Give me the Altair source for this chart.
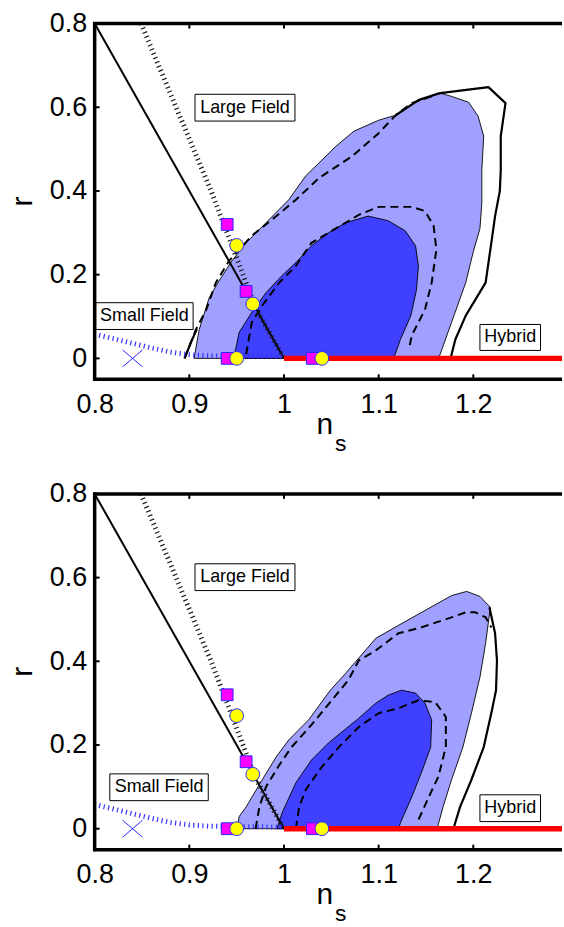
import altair as alt
import pandas as pd

FONT = "Liberation Sans"
LIGHT = "#a0a0ff"
DARK = "#4040ff"

# plot-area size of each panel (pixels)
W, H = 469, 357
NS_DOMAIN = [0.8, 1.2937]
R_DOMAIN = [-0.05, 0.8]
NS_TICKS = [0.8, 0.9, 1.0, 1.1, 1.2]
R_TICKS = [0.0, 0.2, 0.4, 0.6, 0.8]

# ---- model predictions (shared by both panels) ----
BOUND_NS = [0.8, 1.0]
BOUND_R = [0.8, 0.0]
LARGE_NS = [0.849, 0.923, 0.945, 0.970, 0.985, 1.0]
LARGE_R = [0.80, 0.40, 0.27, 0.12, 0.06, 0.0]
SMALL_NS = [0.80, 0.82, 0.84, 0.86, 0.88, 0.90, 0.92, 0.95, 1.00]
SMALL_R = [0.058, 0.047, 0.036, 0.025, 0.015, 0.009, 0.006, 0.005, 0.004]
HYBRID_NS = [1.0, 1.3]
HYBRID_R = [0.0, 0.0]
SQ_NS = [0.94, 0.96, 0.94, 1.03]
SQ_R = [0.32, 0.16, 0.0, 0.0]
CIRC_NS = [0.95, 0.967, 0.95, 1.04]
CIRC_R = [0.27, 0.13, 0.0, 0.0]
CROSS_NS = [0.84]
CROSS_R = [0.0]

# ---- upper panel contours ----
TOP_2S_NS = [0.905, 0.9105, 0.921, 0.9316, 0.945, 0.96, 0.981, 1.005, 1.023, 1.055, 1.074, 1.1,
             1.118, 1.142, 1.166, 1.177, 1.195, 1.205, 1.211, 1.209, 1.209, 1.207, 1.2, 1.192,
             1.177, 1.165, 1.163]
TOP_2S_R = [0.0, 0.069, 0.145, 0.186, 0.233, 0.276, 0.324, 0.379, 0.436, 0.507, 0.543, 0.569,
            0.581, 0.617, 0.633, 0.626, 0.612, 0.579, 0.531, 0.45, 0.371, 0.31, 0.255, 0.181,
            0.086, 0.01, 0.0]
TOP_1S_NS = [0.947, 0.9526, 0.966, 0.981, 0.998, 1.0126, 1.029, 1.047, 1.065, 1.089, 1.11, 1.128,
             1.139, 1.142, 1.14, 1.134, 1.123, 1.117, 1.116]
TOP_1S_R = [0.0, 0.062, 0.11, 0.157, 0.198, 0.229, 0.269, 0.3, 0.324, 0.34, 0.329, 0.305,
            0.269, 0.221, 0.164, 0.102, 0.045, 0.007, 0.0]
TOP_D1_NS = [0.96, 0.966, 0.977, 0.995, 1.0126, 1.029, 1.065, 1.079, 1.1, 1.135, 1.149, 1.158,
             1.161, 1.156, 1.149, 1.135, 1.132]
TOP_D1_R = [0.01, 0.086, 0.126, 0.181, 0.221, 0.276, 0.324, 0.343, 0.362, 0.362, 0.352, 0.317,
            0.26, 0.181, 0.117, 0.055, 0.021]
TOP_D2_NS = [0.895, 0.907, 0.918, 0.928, 0.942, 0.966, 0.992, 1.0126, 1.037, 1.072, 1.1, 1.118,
             1.135, 1.16]
TOP_D2_R = [0.0, 0.069, 0.117, 0.181, 0.233, 0.293, 0.34, 0.379, 0.431, 0.483, 0.538, 0.581,
            0.61, 0.629]
TOP_S_NS = [1.118, 1.142, 1.163, 1.216, 1.234, 1.229, 1.229, 1.228, 1.223, 1.218, 1.213, 1.192,
            1.181, 1.176]
TOP_S_R = [0.581, 0.617, 0.633, 0.648, 0.61, 0.531, 0.45, 0.40, 0.34, 0.26, 0.181, 0.102,
           0.045, 0.0]
TOP_S2_NS = [0.895, 0.902, 0.908]
TOP_S2_R = [0.0, 0.04, 0.07]

# ---- lower panel contours ----
BOT_2S_NS = [0.9505, 0.9526, 0.96, 0.977, 0.9916, 1.005, 1.026, 1.049, 1.065, 1.097, 1.121, 1.177,
             1.193, 1.207, 1.218, 1.213, 1.207, 1.198, 1.189, 1.177, 1.168, 1.163, 1.162]
BOT_2S_R = [0.0, 0.029, 0.052, 0.117, 0.171, 0.212, 0.26, 0.331, 0.371, 0.455, 0.486, 0.557,
            0.567, 0.555, 0.529, 0.443, 0.362, 0.276, 0.195, 0.117, 0.052, 0.01, 0.0]
BOT_1S_NS = [0.9926, 0.998, 1.0126, 1.029, 1.047, 1.079, 1.097, 1.11, 1.124, 1.139, 1.149, 1.156,
             1.155, 1.145, 1.135, 1.123, 1.121]
BOT_1S_R = [0.0, 0.038, 0.11, 0.164, 0.205, 0.264, 0.3, 0.319, 0.331, 0.324, 0.3, 0.26,
            0.195, 0.133, 0.076, 0.014, 0.0]
BOT_D1_NS = [1.0126, 1.016, 1.023, 1.04, 1.058, 1.079, 1.1, 1.121, 1.142, 1.16, 1.166, 1.171,
             1.171, 1.163, 1.153, 1.142]
BOT_D1_R = [0.0, 0.052, 0.093, 0.148, 0.195, 0.243, 0.276, 0.288, 0.307, 0.302, 0.283, 0.267,
            0.195, 0.124, 0.076, 0.021]
BOT_D2_NS = [0.97, 0.974, 0.981, 0.995, 1.008, 1.029, 1.068, 1.079, 1.097, 1.121, 1.145, 1.177,
             1.192, 1.202, 1.213, 1.219]
BOT_D2_R = [0.0, 0.052, 0.1, 0.152, 0.195, 0.248, 0.355, 0.402, 0.426, 0.467, 0.481, 0.505,
            0.517, 0.517, 0.505, 0.481]
BOT_S_NS = [1.217, 1.223, 1.225, 1.224, 1.219, 1.211, 1.198, 1.186, 1.179]
BOT_S_R = [0.529, 0.467, 0.402, 0.331, 0.276, 0.195, 0.117, 0.052, 0.0]

# ---- region labels: text, ns range, r range of the boxed label ----
LABEL_TEXT = ["Large Field", "Small Field", "Hybrid"]
TOP_LABEL_NS = [(0.906, 1.0116), (0.801, 0.904), (1.207, 1.271)]
TOP_LABEL_R = [(0.567, 0.631), (0.069, 0.133), (0.019, 0.081)]
BOT_LABEL_NS = [(0.906, 1.0116), (0.816, 0.920), (1.207, 1.271)]
BOT_LABEL_R = [(0.569, 0.633), (0.067, 0.131), (0.017, 0.081)]

XSCALE = alt.Scale(domain=NS_DOMAIN, nice=False, zero=False)
YSCALE = alt.Scale(domain=R_DOMAIN, nice=False, zero=False)
XAXIS = alt.Axis(values=NS_TICKS, format="~g", ticks=False, tickSize=0, grid=False,
                 domain=False, labelFont=FONT, labelFontSize=27,
                 labelColor="black", labelPadding=12, labelFlush=False, labelOverlap=False,
                 title=None)
YAXIS = alt.Axis(values=R_TICKS, format="~g", ticks=False, tickSize=0, grid=False,
                 domain=False, labelFont=FONT, labelFontSize=27,
                 labelColor="black", labelPadding=8, labelOverlap=False,
                 title="r", titleFont=FONT, titleFontSize=30, titleFontWeight="normal",
                 titleColor="black", titleX=-63, titleY=178, titleAngle=270,
                 titleBaseline="alphabetic", titleAlign="center")


def X(field="ns"):
    return alt.X(f"{field}:Q", scale=XSCALE, axis=XAXIS)


def Y(field="r"):
    return alt.Y(f"{field}:Q", scale=YSCALE, axis=YAXIS)


def path_df(ns, r, close=False):
    ns, r = list(ns), list(r)
    if close:
        ns, r = ns + ns[:1], r + r[:1]
    return pd.DataFrame({"ns": ns, "r": r, "i": range(len(ns))})


def region(ns, r, color):
    return alt.Chart(path_df(ns, r, close=True)).mark_line(
        fill=color, stroke="black", strokeWidth=0.9, strokeJoin="round"
    ).encode(x=X(), y=Y(), order="i:Q")


def curve(ns, r, **style):
    return alt.Chart(path_df(ns, r)).mark_line(**style).encode(x=X(), y=Y(), order="i:Q")


def panel(c2_ns, c2_r, c1_ns, c1_r, d1, d2, solids, lab_ns, lab_r):
    layers = [
        region(c2_ns, c2_r, LIGHT),
        region(c1_ns, c1_r, DARK),
    ]
    for s_ns, s_r in solids:
        layers.append(curve(s_ns, s_r, color="black", strokeWidth=2.2, strokeJoin="round"))
    for d_ns, d_r in (d1, d2):
        layers.append(curve(d_ns, d_r, color="black", strokeWidth=2, strokeDash=[8, 5]))

    # boundary between large- and small-field models
    layers.append(curve(BOUND_NS, BOUND_R, color="black", strokeWidth=2))
    # large-field and small-field model tracks (dotted)
    layers.append(curve(LARGE_NS, LARGE_R, color="#1a1a1a", strokeWidth=5,
                        strokeDash=[1.2, 3.4]))
    layers.append(curve(SMALL_NS, SMALL_R, color="#3434ff", strokeWidth=5,
                        strokeDash=[1.2, 3.4]))
    # hybrid models along r = 0
    layers.append(curve(HYBRID_NS, HYBRID_R, color="#ff0000", strokeWidth=5.5, clip=True))

    sq = pd.DataFrame({"ns": SQ_NS, "r": SQ_R})
    layers.append(alt.Chart(sq).mark_point(
        shape="square", filled=True, fill="#ff00ff", stroke="#2a2aff", strokeWidth=1,
        size=140, opacity=1).encode(x=X(), y=Y()))
    ci = pd.DataFrame({"ns": CIRC_NS, "r": CIRC_R})
    layers.append(alt.Chart(ci).mark_point(
        shape="circle", filled=True, fill="#ffff00", stroke="#2a2aff", strokeWidth=1,
        size=190, opacity=1).encode(x=X(), y=Y()))
    cr = pd.DataFrame({"ns": CROSS_NS, "r": CROSS_R})
    layers.append(alt.Chart(cr).mark_point(
        shape="M-1,-0.85L1,0.85M-1,0.85L1,-0.85", filled=False, stroke="#2a2aff",
        strokeWidth=1, size=400, opacity=1).encode(x=X(), y=Y()))

    lab = pd.DataFrame({
        "t": LABEL_TEXT,
        "ns": [a for a, _ in lab_ns], "ns2": [b for _, b in lab_ns],
        "r": [a for a, _ in lab_r], "r2": [b for _, b in lab_r],
    })
    lab["nsc"] = (lab["ns"] + lab["ns2"]) / 2
    lab["rc"] = (lab["r"] + lab["r2"]) / 2
    layers.append(alt.Chart(lab).mark_rect(fill="white", stroke="black", strokeWidth=1).encode(
        x=X("ns"), x2="ns2:Q", y=Y("r"), y2="r2:Q"))
    layers.append(alt.Chart(lab).mark_text(font=FONT, fontSize=18, color="black",
                                           align="center", baseline="middle").encode(
        x=X("nsc"), y=Y("rc"), text="t:N"))

    # frame: top, left and bottom edges with inward ticks
    one = pd.DataFrame({"a": [0]})
    layers.append(alt.Chart(one).mark_rule(color="black", strokeWidth=3.5).encode(
        x=alt.value(-1.5), x2=alt.value(W), y=alt.value(0)))
    layers.append(alt.Chart(one).mark_rule(color="black", strokeWidth=3.5).encode(
        x=alt.value(-1.5), x2=alt.value(W), y=alt.value(H)))
    layers.append(alt.Chart(one).mark_rule(color="black", strokeWidth=3.5).encode(
        x=alt.value(0), y=alt.value(-1.5), y2=alt.value(H + 1.5)))
    xt = pd.DataFrame({"ns": NS_TICKS})
    layers.append(alt.Chart(xt).mark_rule(color="black", strokeWidth=2).encode(
        x=X(), y=alt.value(H), y2=alt.value(H - 5)))
    layers.append(alt.Chart(xt).mark_rule(color="black", strokeWidth=2).encode(
        x=X(), y=alt.value(0), y2=alt.value(5)))
    yt = pd.DataFrame({"r": R_TICKS})
    layers.append(alt.Chart(yt).mark_rule(color="black", strokeWidth=2).encode(
        y=Y(), x=alt.value(0), x2=alt.value(5)))

    # x-axis title n with subscript s
    layers.append(alt.Chart(pd.DataFrame({"t": ["n"]})).mark_text(
        font=FONT, fontSize=30, color="black", align="center", baseline="alphabetic").encode(
        text="t:N", x=alt.value(231), y=alt.value(412)))
    layers.append(alt.Chart(pd.DataFrame({"t": ["s"]})).mark_text(
        font=FONT, fontSize=23, color="black", align="center", baseline="alphabetic").encode(
        text="t:N", x=alt.value(247), y=alt.value(429)))

    return alt.layer(*layers).properties(width=W, height=H)


top = panel(TOP_2S_NS, TOP_2S_R, TOP_1S_NS, TOP_1S_R,
            (TOP_D1_NS, TOP_D1_R), (TOP_D2_NS, TOP_D2_R),
            [(TOP_S_NS, TOP_S_R), (TOP_S2_NS, TOP_S2_R)],
            TOP_LABEL_NS, TOP_LABEL_R)
bottom = panel(BOT_2S_NS, BOT_2S_R, BOT_1S_NS, BOT_1S_R,
               (BOT_D1_NS, BOT_D1_R), (BOT_D2_NS, BOT_D2_R),
               [(BOT_S_NS, BOT_S_R)],
               BOT_LABEL_NS, BOT_LABEL_R)

chart = alt.vconcat(top, bottom, spacing=115, bounds="flush").properties(
    padding={"left": 8, "top": 8, "right": 0, "bottom": 0},
    background="white",
).configure_view(stroke=None)

chart.save("out.html", embed_options={"renderer": "svg", "actions": False})
